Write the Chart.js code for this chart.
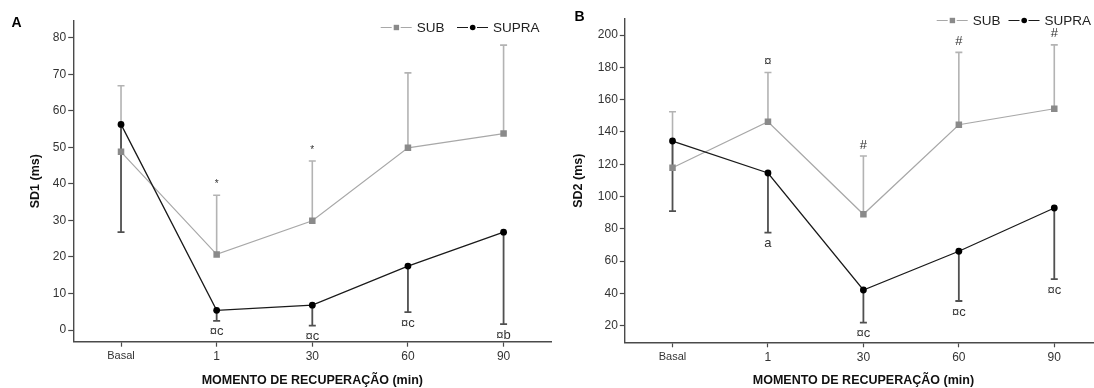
<!DOCTYPE html>
<html><head><meta charset="utf-8">
<script src="https://cdn.jsdelivr.net/npm/chart.js@4.4.1/dist/chart.umd.min.js"></script>
<style>
html,body{margin:0;padding:0;background:#fff;overflow:hidden;width:1094px;height:388px;position:relative;}
.p{position:absolute;top:0;height:388px;}
#wa{left:0;width:556px;}
#wb{left:556px;width:560px;}
canvas{display:block;}
</style></head><body>
<div class="p" id="wa"><canvas id="ca" width="556" height="388"></canvas></div>
<div class="p" id="wb"><canvas id="cb" width="560" height="388"></canvas></div>
<script>
// ---- data ----
const categories = ['Basal', '1', '30', '60', '90'];
const seriesNames = ['SUB', 'SUPRA'];

// Panel A: SD1 (ms)
const subA = [48.8, 20.7, 29.9, 49.9, 53.8];
const subSdA = [18.1, 16.2, 16.4, 20.5, 24.2];
const supraA = [56.3, 5.4, 6.8, 17.5, 26.8];
const supraSdA = [29.5, 2.9, 5.6, 12.6, 25.2];
const subMarksA = ['', '*', '*', '', ''];
const supraMarksA = ['', '¤c', '¤c', '¤c', '¤b'];
const yTicksA = [0, 10, 20, 30, 40, 50, 60, 70, 80];

// Panel B: SD2 (ms)
const subB = [117.8, 146.3, 89.0, 144.5, 154.4];
const subSdB = [34.7, 30.6, 36.1, 44.8, 39.6];
const supraB = [134.4, 114.6, 42.1, 66.1, 92.9];
const supraSdB = [43.4, 37.0, 20.2, 30.8, 44.0];
const subMarksB = ['', '¤', '#', '#', '#'];
const supraMarksB = ['', 'a', '¤c', '¤c', '¤c'];
const yTicksB = [20, 40, 60, 80, 100, 120, 140, 160, 180, 200];

// ---- drawing ----
const FAM = '"Liberation Sans", Arial, sans-serif';
const SUB_LINE = '#a8a8a8', SUB_PT = '#8a8a8a', SUB_ERR = '#b3b3b3';
const SUPRA_LINE = '#1a1a1a', SUPRA_PT = '#000000', SUPRA_ERR = '#505050';
const AXIS = '#4a4a4a';

function makePlugin(cfg) {
  return {
    id: 'extras',
    beforeDatasetsDraw(chart) {
      const {ctx, scales: {x, y}} = chart;
      ctx.save();
      cfg.bars.forEach(b => {
        ctx.strokeStyle = b.color;
        ctx.lineWidth = b.width;
        b.values.forEach((v, i) => {
          const sd = b.sd[i];
          if (!sd) return;
          const px = x.getPixelForValue(i);
          const y0 = y.getPixelForValue(v);
          const y1 = y.getPixelForValue(v + b.dir * sd);
          ctx.beginPath();
          ctx.moveTo(px, y0); ctx.lineTo(px, y1);
          ctx.moveTo(px - 3.5, y1); ctx.lineTo(px + 3.5, y1);
          ctx.stroke();
        });
      });
      ctx.restore();
    },
    afterDatasetsDraw(chart) {
      const {ctx, scales: {x, y}} = chart;
      ctx.save();
      ctx.fillStyle = '#333';
      ctx.textAlign = 'center';
      ctx.textBaseline = 'middle';
      cfg.bars.forEach(b => {
        b.marks.forEach((m, i) => {
          if (!m) return;
          const px = x.getPixelForValue(i);
          const y1 = y.getPixelForValue(b.values[i] + b.dir * b.sd[i]);
          ctx.font = (m === '*' ? '10px ' : '13px ') + FAM;
          ctx.fillText(m, px, y1 - b.dir * 11);
        });
      });
      // panel letter
      ctx.fillStyle = '#000';
      ctx.font = 'bold 14px ' + FAM;
      ctx.fillText(cfg.letter, cfg.letterX, cfg.letterY);
      // legend
      const ds = chart.data.datasets;
      ctx.textAlign = 'left';
      ctx.font = '13.5px ' + FAM;
      ds.forEach((d, k) => {
        const tx = cfg.legendX[k], ly = cfg.legendY;
        ctx.strokeStyle = d.borderColor;
        ctx.lineWidth = 1.2;
        ctx.beginPath();
        ctx.moveTo(tx - 36, ly); ctx.lineTo(tx - 25, ly);
        ctx.moveTo(tx - 16, ly); ctx.lineTo(tx - 5, ly);
        ctx.stroke();
        ctx.fillStyle = d.pointBackgroundColor;
        ctx.beginPath();
        if (d.pointStyle === 'rect') ctx.rect(tx - 23, ly - 2.7, 5.4, 5.4);
        else ctx.arc(tx - 20.3, ly, 2.8, 0, Math.PI * 2);
        ctx.fill();
        ctx.fillStyle = '#222';
        ctx.fillText(d.label, tx, ly + 0.5);
      });
      ctx.restore();
    }
  };
}

function makeChart(id, c) {
  return new Chart(document.getElementById(id), {
    type: 'line',
    data: {
      labels: categories,
      datasets: [
        {label: seriesNames[0], data: c.sub, borderColor: SUB_LINE, borderWidth: 1.2,
         pointStyle: 'rect', pointRadius: 4.6, pointBackgroundColor: SUB_PT, pointBorderColor: SUB_PT,
         pointBorderWidth: 0, tension: 0, order: 2},
        {label: seriesNames[1], data: c.supra, borderColor: SUPRA_LINE, borderWidth: 1.3,
         pointStyle: 'circle', pointRadius: 3.4, pointBackgroundColor: SUPRA_PT, pointBorderColor: SUPRA_PT,
         pointBorderWidth: 0, tension: 0, order: 1}
      ]
    },
    options: {
      responsive: false, animation: false, devicePixelRatio: 1,
      layout: {padding: {left: 0, right: c.padRight, top: c.padTop, bottom: 0}},
      plugins: {legend: {display: false}, tooltip: {enabled: false}},
      scales: {
        x: {
          type: 'category', offset: true,
          grid: {display: true, drawOnChartArea: false, drawTicks: true, tickLength: 5, offset: false,
                 tickColor: AXIS, tickWidth: 1.2, color: AXIS},
          border: {display: true, color: AXIS, width: 1.4},
          ticks: {color: '#333', padding: 3, maxRotation: 0,
                  font: ctx => ({family: FAM, size: ctx.index === 0 ? 11 : 12})},
          title: {display: true, text: 'MOMENTO DE RECUPERAÇÃO (min)', color: '#111',
                  font: {family: FAM, size: 12.5, weight: 'bold'}, padding: {top: 0, bottom: 0}},
          afterFit: s => { s.height = c.xHeight; }
        },
        y: {
          min: c.yMin, max: c.yMax,
          afterBuildTicks: s => { s.ticks = c.yTicks.map(v => ({value: v})); },
          grid: {display: true, drawOnChartArea: false, drawTicks: true, tickLength: 5,
                 tickColor: AXIS, tickWidth: 1.2, color: AXIS},
          border: {display: true, color: AXIS, width: 1.4},
          ticks: {color: '#333', padding: 2, font: {family: FAM, size: 12}},
          title: {display: true, text: c.yTitle, color: '#111',
                  font: {family: FAM, size: 12.5, weight: 'bold'}, padding: {top: c.yTitlePad, bottom: 0}},
          afterFit: s => { s.width = c.yWidth; }
        }
      }
    },
    plugins: [makePlugin({
      letter: c.letter, letterX: c.letterX, letterY: c.letterY,
      legendX: c.legendX, legendY: c.legendY,
      bars: [
        {values: c.sub, sd: c.subSd, dir: 1, color: SUB_ERR, width: 1.6, marks: c.subMarks},
        {values: c.supra, sd: c.supraSd, dir: -1, color: SUPRA_ERR, width: 1.8, marks: c.supraMarks}
      ]
    })]
  });
}

makeChart('ca', {
  sub: subA, subSd: subSdA, supra: supraA, supraSd: supraSdA,
  subMarks: subMarksA, supraMarks: supraMarksA, yTicks: yTicksA,
  yMin: -3.2, yMax: 84.7, yTitle: 'SD1 (ms)', yTitlePad: 28.2, yWidth: 73.2,
  padRight: 4.2, padTop: 20.7, xHeight: 46.3,
  letter: 'A', letterX: 16.5, letterY: 23,
  legendX: [416.7, 493], legendY: 27.5
});
makeChart('cb', {
  sub: subB, subSd: subSdB, supra: supraB, supraSd: supraSdB,
  subMarks: subMarksB, supraMarks: supraMarksB, yTicks: yTicksB,
  yMin: 9.7, yMax: 210, yTitle: 'SD2 (ms)', yTitlePad: 15.4, yWidth: 68.8,
  padRight: 14, padTop: 19, xHeight: 45.7,
  letter: 'B', letterX: 23.6, letterY: 16.7,
  legendX: [416.7, 488.5], legendY: 20.5
});
</script>
</body></html>
